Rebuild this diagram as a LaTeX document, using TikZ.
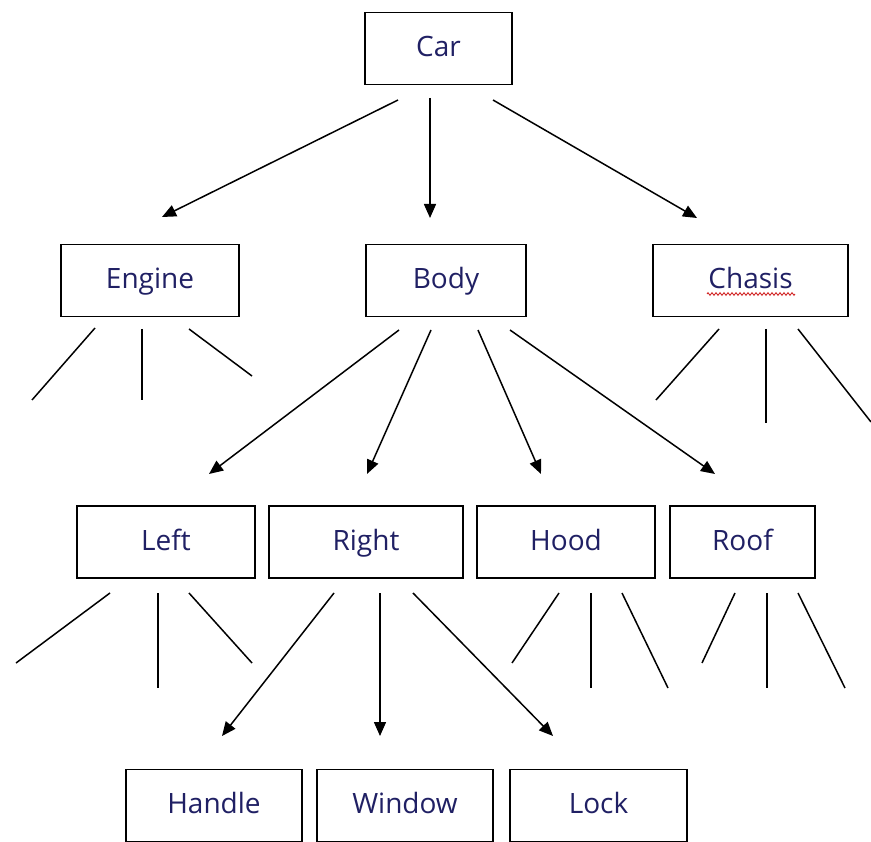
\documentclass[tikz,border=0pt]{standalone}
\usepackage{fontspec}
\setmainfont{Open Sans}
\usetikzlibrary{arrows.meta,decorations.pathmorphing}
\definecolor{txt}{RGB}{32,32,100}
\definecolor{squig}{RGB}{210,40,40}
\begin{document}
\begin{tikzpicture}[x=1pt,y=-1pt,
  box/.style={draw=black,line width=1.8pt,minimum height=72pt,inner sep=0pt,
    text height=21pt,text depth=5pt,
    font=\fontsize{28}{30}\selectfont,text=txt},
  arr/.style={line width=1.5pt,-{Triangle[length=14pt,width=12pt]}},
  stub/.style={line width=1.5pt}]
\useasboundingbox (0,0) rectangle (871,842);
\fill[white] (0,0) rectangle (871,842);
% nodes
\node[box,minimum width=147pt] (car) at (438.5,48.5) {Car};
\node[box,minimum width=178pt] (engine) at (150,280.5) {Engine};
\node[box,minimum width=160pt] (body) at (446,280.5) {Body};
\node[box,minimum width=195pt] (chasis) at (750.5,280.5) {Chasis};
\node[box,minimum width=178pt] (left) at (166,542) {Left};
\node[box,minimum width=194pt] (right) at (366,542) {Right};
\node[box,minimum width=178pt] (hood) at (566,542) {Hood};
\node[box,minimum width=145pt] (roof) at (742.5,542) {Roof};
\node[box,minimum width=176pt] (handle) at (214,805.5) {Handle};
\node[box,minimum width=176pt] (window) at (405,805.5) {Window};
\node[box,minimum width=177pt] (lock) at (598.5,805.5) {Lock};
% spell-check squiggle under Chasis
\draw[squig,line width=0.9pt,decorate,decoration={zigzag,segment length=4pt,amplitude=1.3pt}]
  (707,294) -- (795,294);
% arrow anchor coordinates
\coordinate (carA) at (398,100);   \coordinate (engT) at (162,217);
\coordinate (carB) at (430,98);    \coordinate (bodT) at (430,218);
\coordinate (carC) at (493,100);   \coordinate (chaT) at (697,218);
\coordinate (bodA) at (399,330);   \coordinate (lefT) at (209,474);
\coordinate (bodB) at (431,330);   \coordinate (rigT) at (367,474);
\coordinate (bodC) at (478,330);   \coordinate (hooT) at (541,474);
\coordinate (bodD) at (510,330);   \coordinate (rooT) at (715,474);
\coordinate (rigA) at (334,593);   \coordinate (hanT) at (222,736);
\coordinate (rigB) at (380,593);   \coordinate (winT) at (380,736);
\coordinate (rigC) at (413,593);   \coordinate (locT) at (553,736);
% arrows
\draw[arr] (carA) -- (engT);
\draw[arr] (carB) -- (bodT);
\draw[arr] (carC) -- (chaT);
\draw[arr] (bodA) -- (lefT);
\draw[arr] (bodB) -- (rigT);
\draw[arr] (bodC) -- (hooT);
\draw[arr] (bodD) -- (rooT);
\draw[arr] (rigA) -- (hanT);
\draw[arr] (rigB) -- (winT);
\draw[arr] (rigC) -- (locT);
% stubs (open-ended branches)
\draw[stub] (95,328) -- (32,400);
\draw[stub] (142,329) -- (142,400);
\draw[stub] (189,329) -- (252,376);
\draw[stub] (719,329) -- (656,400);
\draw[stub] (766,329) -- (766,423);
\draw[stub] (798,329) -- (871,422);
\draw[stub] (110,593) -- (16,663);
\draw[stub] (158,593) -- (158,688);
\draw[stub] (189,593) -- (252,663);
\draw[stub] (559,593) -- (512,663);
\draw[stub] (591,593) -- (591,688);
\draw[stub] (622,593) -- (668,688);
\draw[stub] (735,593) -- (702,663);
\draw[stub] (767,593) -- (767,688);
\draw[stub] (798,593) -- (845,688);
\end{tikzpicture}
\end{document}
